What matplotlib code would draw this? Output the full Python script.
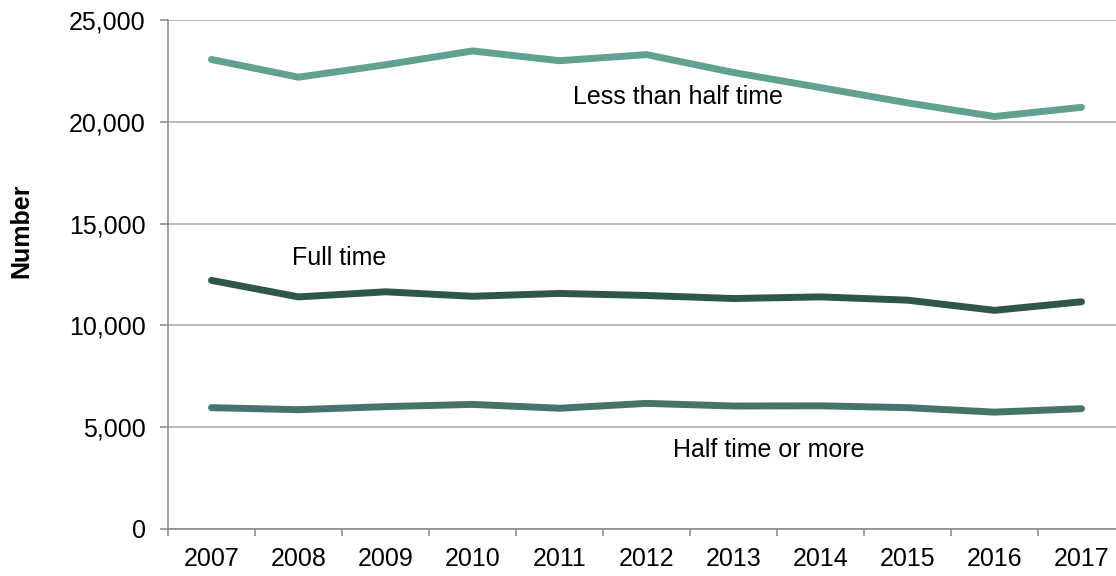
import matplotlib
matplotlib.use("Agg")
import matplotlib.pyplot as plt
from matplotlib.ticker import FuncFormatter, FixedLocator
import numpy as np

plt.rcParams['font.family'] = ['Liberation Sans', 'DejaVu Sans']

years = ['2007', '2008', '2009', '2010', '2011', '2012', '2013', '2014', '2015', '2016', '2017']
less_than_half = [23060, 22190, 22800, 23480, 23000, 23300, 22420, 21680, 20930, 20260, 20710]
full_time = [12210, 11400, 11650, 11430, 11570, 11470, 11320, 11400, 11240, 10740, 11160]
half_or_more = [5960, 5860, 6010, 6120, 5930, 6170, 6040, 6050, 5960, 5740, 5910]

series_names = ['Less than half time', 'Full time', 'Half time or more']
colors = ['#62A092', '#2F564C', '#46736A']

W, H = 1116, 576
fig = plt.figure(figsize=(W / 100, H / 100), dpi=100)
ax = fig.add_axes([168 / W, (H - 529) / H, 957 / W, 509 / H])

x = np.arange(len(years))
for vals, c in zip([less_than_half, full_time, half_or_more], colors):
    ax.plot(x, vals, color=c, linewidth=5, solid_capstyle='round', solid_joinstyle='round', zorder=3)

ax.set_xlim(-0.5, len(years) - 0.5)
ax.set_ylim(0, 25000)
ax.set_yticks(np.arange(0, 25001, 5000))
ax.yaxis.set_major_formatter(FuncFormatter(lambda v, p: f'{int(v):,}'))
ax.grid(axis='y', color='#A6A6A6', linewidth=1.1, zorder=0)
ax.set_axisbelow(True)

ax.set_xticks(x)
ax.set_xticklabels(years)
ax.xaxis.set_minor_locator(FixedLocator(np.arange(-0.5, len(years) + 0.5, 1)))
ax.tick_params(axis='x', which='major', length=0, pad=13, labelsize=18)
ax.tick_params(axis='x', which='minor', length=5, color='#868686', width=1.1)
ax.tick_params(axis='y', length=6, color='#868686', width=1.1, pad=10, labelsize=18)

for s in ['top', 'right']:
    ax.spines[s].set_visible(False)
for s in ['left', 'bottom']:
    ax.spines[s].set_color('#868686')
    ax.spines[s].set_linewidth(1.1)

ax.text(4.15, 20890, series_names[0], fontsize=18, ha='left', va='baseline')
ax.text(0.93, 12970, series_names[1], fontsize=18, ha='left', va='baseline')
ax.text(5.31, 3530, series_names[2], fontsize=18, ha='left', va='baseline')

fig.text(21 / W, 1 - 231 / H, 'Number', rotation=90, fontsize=18, fontweight='bold',
         ha='center', va='center')

fig.savefig('out.png', dpi=100)
